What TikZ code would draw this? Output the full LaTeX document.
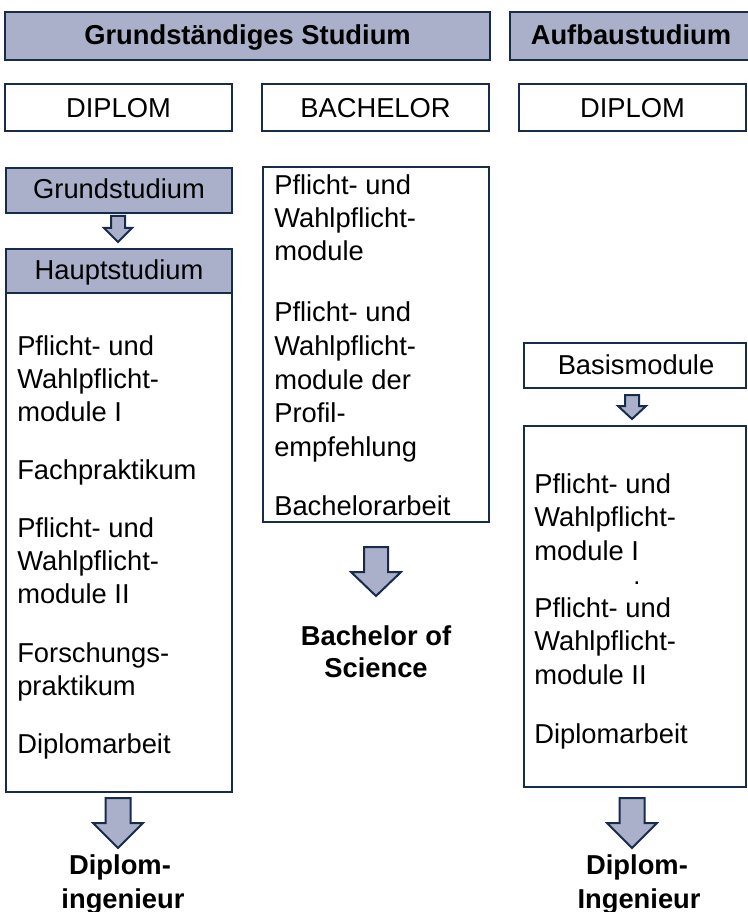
\documentclass[tikz,border=0pt]{standalone}
\usepackage{fontspec}
\setmainfont{Liberation Sans}
\definecolor{boxfill}{RGB}{170,176,201}
\definecolor{boxline}{RGB}{23,43,77}
\newcommand{\BlkArrow}[6]{% cx, top, shaft hw, head hw, head y, tip y
  \draw[arr] ({#1-#3},#2) -- ({#1+#3},#2) -- ({#1+#3},#5) -- ({#1+#4},#5) -- (#1,#6) -- ({#1-#4},#5) -- ({#1-#3},#5) -- cycle;}
\begin{document}
\begin{tikzpicture}[x=0.75pt,y=-0.75pt,
  box/.style={draw=boxline, line width=1.5pt},
  filled/.style={box, fill=boxfill},
  arr/.style={draw=boxline, line width=1.5pt, fill=boxfill, line join=miter},
  txt/.style={font=\fontsize{20.5}{25.5}\selectfont, inner sep=0pt, anchor=base west},
  ctxt/.style={font=\fontsize{20.5}{25.5}\selectfont, inner sep=0pt, anchor=base},
  btxt/.style={font=\bfseries\fontsize{20.5}{25.5}\selectfont, inner sep=0pt, anchor=base}]
\useasboundingbox (0,0) rectangle (748,912);
\clip (0,0) rectangle (748,912);
\fill[white] (0,0) rectangle (748,912);

% headers
\draw[filled] (5,12) rectangle (490,60);
\node[btxt] (h1) at (247.5,45) {Grundständiges Studium};
\draw[filled] (510,12) rectangle (752,60);
\node[btxt] (h2) at (631,45) {Aufbaustudium};

% type boxes
\draw[box] (5,84) rectangle (232,131);
\node[ctxt] (t1) at (118.5,117.5) {DIPLOM};
\draw[box] (262,84) rectangle (489,131);
\node[ctxt] (t2) at (375.5,117.5) {BACHELOR};
\draw[box] (519,84) rectangle (746,131);
\node[ctxt] (t3) at (632.5,117.5) {DIPLOM};

% left column
\draw[filled] (6,168) rectangle (232,213);
\node[ctxt] (gs) at (119,199) {Grundstudium};
\BlkArrow{118}{216}{7}{14}{228}{242}
\draw[filled] (6,249) rectangle (232,293);
\node[ctxt] (hs) at (119,280) {Hauptstudium};
\draw[box] (6,293) rectangle (232,792);
\foreach \t [count=\i from 0] in {Pflicht- und, Wahlpflicht-, module I}
  \node[txt] (la\i) at (17,{355+33.3*\i}) {\t};
\node[txt] (lb) at (17,479) {Fachpraktikum};
\foreach \t [count=\i from 0] in {Pflicht- und, Wahlpflicht-, module II}
  \node[txt] (lc\i) at (17,{537+33.3*\i}) {\t};
\foreach \t [count=\i from 0] in {Forschungs-, praktikum}
  \node[txt] (ld\i) at (17,{662+33.3*\i}) {\t};
\node[txt] (le) at (17,753) {Diplomarbeit};
\BlkArrow{118}{798}{12.5}{25}{823}{848}
\node[btxt] (ld1r) at (120,874) {Diplom-};
\node[btxt] (ld2r) at (123,908) {ingenieur};

% middle column
\draw[box] (263,167) rectangle (489,522);
\foreach \t [count=\i from 0] in {Pflicht- und, Wahlpflicht-, module}
  \node[txt] (ma\i) at (274,{195+33*\i}) {\t};
\foreach \t [count=\i from 0] in {Pflicht- und, Wahlpflicht-, module der, Profil-, empfehlung}
  \node[txt] (mb\i) at (274,{322+33.5*\i}) {\t};
\node[txt] (mc) at (274,515) {Bachelorarbeit};
\BlkArrow{376}{547}{12}{25}{572}{596}
\node[btxt] (bs1) at (376,645) {Bachelor of};
\node[btxt] (bs2) at (376,677) {Science};

% right column
\draw[box] (524,343) rectangle (746,388);
\node[ctxt] (bm) at (636,374) {Basismodule};
\BlkArrow{632}{395}{7}{14}{406}{419}
\draw[box] (524,426) rectangle (746,787);
\foreach \t [count=\i from 0] in {Pflicht- und, Wahlpflicht-, module I}
  \node[txt] (ra\i) at (534,{493+33.5*\i}) {\t};
\node[ctxt, font=\fontsize{19}{20}\selectfont] (dot) at (637,584) {.};
\foreach \t [count=\i from 0] in {Pflicht- und, Wahlpflicht-, module II}
  \node[txt] (rb\i) at (534,{617+33.5*\i}) {\t};
\node[txt] (rc) at (534,743) {Diplomarbeit};
\BlkArrow{632}{798}{12.5}{25}{823}{848}
\node[btxt] (rd1) at (637,874) {Diplom-};
\node[btxt] (rd2) at (639,908) {Ingenieur};
\end{tikzpicture}
\end{document}
